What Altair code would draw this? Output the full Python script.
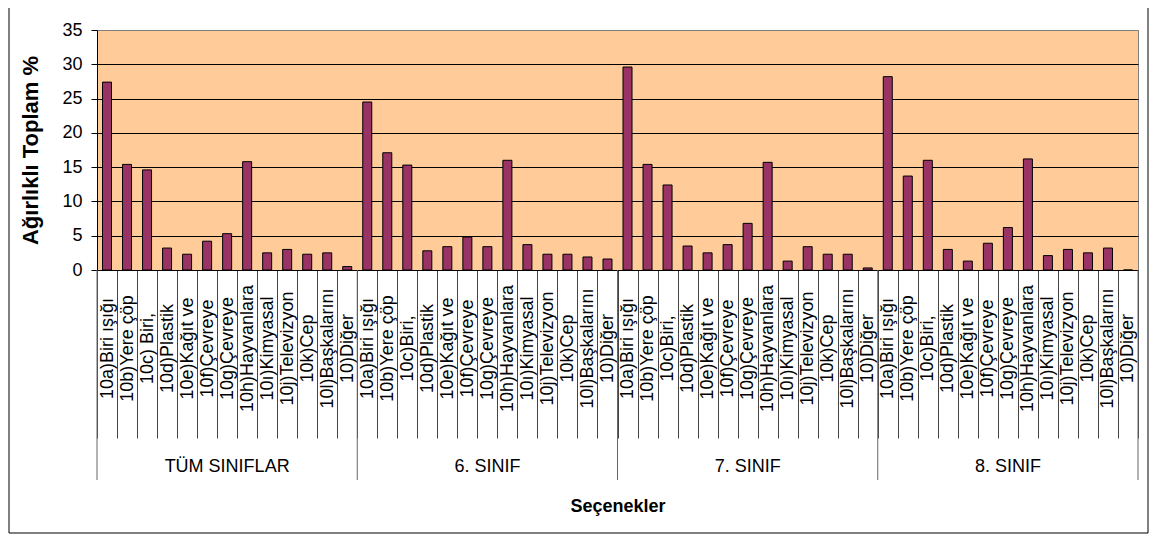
import altair as alt
import pandas as pd

groups = ["TÜM SINIFLAR", "6. SINIF", "7. SINIF", "8. SINIF"]

items_tum = ["10a)Biri ışığı", "10b)Yere çöp", "10c) Biri,", "10d)Plastik", "10e)Kağıt ve",
             "10f)Çevreye", "10g)Çevreye", "10h)Hayvanlara", "10ı)Kimyasal", "10j)Televizyon",
             "10k)Cep", "10l)Başkalarını", "10)Diğer"]
items_sinif = ["10a)Biri ışığı", "10b)Yere çöp", "10c)Biri,", "10d)Plastik", "10e)Kağıt ve",
               "10f)Çevreye", "10g)Çevreye", "10h)Hayvanlara", "10ı)Kimyasal", "10j)Televizyon",
               "10k)Cep", "10l)Başkalarını", "10)Diğer"]

values_tum = [27.4, 15.4, 14.6, 3.2, 2.3, 4.2, 5.3, 15.8, 2.5, 3.0, 2.3, 2.5, 0.5]
values_6 = [24.5, 17.1, 15.3, 2.8, 3.4, 4.8, 3.4, 16.0, 3.7, 2.3, 2.3, 1.9, 1.6]
values_7 = [29.6, 15.4, 12.4, 3.5, 2.5, 3.7, 6.8, 15.7, 1.3, 3.4, 2.3, 2.3, 0.3]
values_8 = [28.2, 13.7, 16.0, 3.0, 1.3, 3.9, 6.2, 16.2, 2.1, 3.0, 2.5, 3.2, 0.0]

y_ticks = [0, 5, 10, 15, 20, 25, 30, 35]

FONT = "Liberation Sans"
BAR = "#993366"
BG = "#FFCC99"

item_lists = [items_tum, items_sinif, items_sinif, items_sinif]
value_lists = [values_tum, values_6, values_7, values_8]

rows = []
for g, its, vals in zip(groups, item_lists, value_lists):
    for it, v in zip(its, vals):
        rows.append({"key": f"{g}|{it}", "group": g, "item": it, "value": v})
df = pd.DataFrame(rows)
keys = list(df["key"])

first_keys = [df[df["group"] == g]["key"].iloc[0] for g in groups]
mid_keys = [df[df["group"] == g]["key"].iloc[6] for g in groups]
last_key = [keys[-1]]

xscale = alt.Scale(domain=keys, paddingInner=0, paddingOuter=0)

bars = alt.Chart(df).mark_bar(
    color=BAR, stroke="black", strokeWidth=1, width=alt.RelativeBandSize(0.45)
).encode(
    x=alt.X("key:N", scale=xscale, sort=None, axis=alt.Axis(
        title="Seçenekler",
        labelExpr="split(datum.label, '|')[1]",
        labelAngle=270, labelAlign="center", labelBaseline="middle",
        labelPadding=-90, labelOverlap=False, labelFont=FONT, labelFontSize=18,
        labelColor="black", labelLimit=200,
        tickBand="extent", tickSize=168, tickColor="#444", tickWidth=1,
        domainColor="black", domainWidth=1,
        titleFont=FONT, titleFontSize=18, titleFontWeight="bold", titleColor="black",
        titleY=236, titleBaseline="middle",
    )),
    y=alt.Y("value:Q", scale=alt.Scale(domain=[0, 35], nice=False), axis=alt.Axis(
        values=y_ticks, title="Ağırlıklı Toplam %",
        titleX=-67, titleY=120, titleAngle=270, titleAlign="center", titleBaseline="middle",
        titleFont=FONT, titleFontSize=22, titleFontWeight="bold", titleColor="black",
        labelFont=FONT, labelFontSize=18, labelColor="black", labelPadding=9,
        tickSize=6, tickColor="black", domainColor="black",
        grid=True, gridWidth=1,
        gridColor=alt.condition("datum.value == 35", alt.value("#808080"), alt.value("black")),
    )),
)

group_seps = alt.Chart(pd.DataFrame({"key": first_keys})).mark_rule(color="#666", strokeWidth=1).encode(
    x=alt.X("key:N", scale=xscale, bandPosition=0),
    y=alt.value(240), y2=alt.value(450),
)
end_sep = alt.Chart(pd.DataFrame({"key": last_key})).mark_rule(color="#666", strokeWidth=1).encode(
    x=alt.X("key:N", scale=xscale, bandPosition=1),
    y=alt.value(240), y2=alt.value(450),
)

group_labels = alt.Chart(pd.DataFrame({"key": mid_keys, "group": groups})).mark_text(
    font=FONT, fontSize=18, color="black", align="center", baseline="middle"
).encode(
    x=alt.X("key:N", scale=xscale),
    y=alt.value(437),
    text="group:N",
)

one = pd.DataFrame({"a": [0]})
frame_l = alt.Chart(one).mark_rule(color="black", strokeWidth=1).encode(
    x=alt.value(-88), y=alt.value(-22), y2=alt.value(503))
frame_r = alt.Chart(one).mark_rule(color="black", strokeWidth=1).encode(
    x=alt.value(1051), y=alt.value(-22), y2=alt.value(503))
frame_b = alt.Chart(one).mark_rule(color="black", strokeWidth=1).encode(
    x=alt.value(-88), x2=alt.value(1051), y=alt.value(503))

chart = alt.layer(bars, group_seps, end_sep, group_labels, frame_l, frame_r, frame_b).properties(
    width=1041, height=240,
    background="white",
    autosize=alt.AutoSizeParams(type="none"),
    padding={"left": 89, "top": 22, "right": 11, "bottom": 264},
).configure_view(
    fill=BG, stroke="#808080", strokeWidth=1
)

chart.save("out.html", embed_options={"renderer": "svg", "actions": False})
